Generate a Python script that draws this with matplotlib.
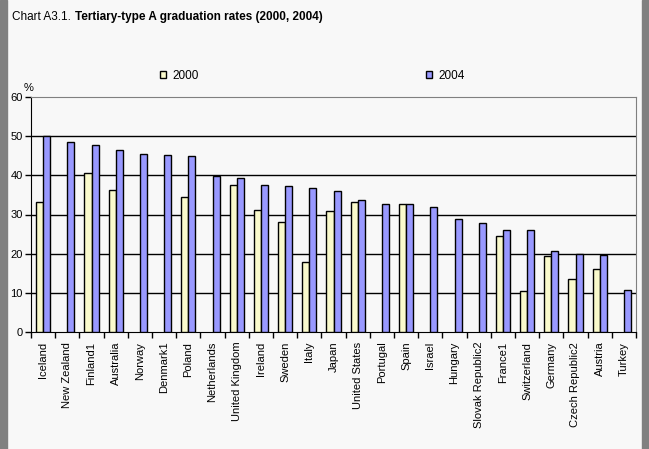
import numpy as np
import matplotlib
matplotlib.use("Agg")
import matplotlib.pyplot as plt
from matplotlib.patches import Rectangle

plt.rcParams['font.family'] = ['Liberation Sans', 'DejaVu Sans']

countries = ["Iceland", "New Zealand", "Finland1", "Australia", "Norway", "Denmark1",
             "Poland", "Netherlands", "United Kingdom", "Ireland", "Sweden", "Italy",
             "Japan", "United States", "Portugal", "Spain", "Israel", "Hungary",
             "Slovak Republic2", "France1", "Switzerland", "Germany",
             "Czech Republic2", "Austria", "Turkey"]
nan = np.nan
rate_2000 = [33.1, nan, 40.5, 36.2, nan, nan, 34.4, nan, 37.5, 31.1, 28.0, 18.0,
             30.8, 33.1, nan, 32.6, nan, nan, nan, 24.4, 10.4, 19.3, 13.5, 16.0, nan]
rate_2004 = [50.0, 48.4, 47.7, 46.4, 45.4, 45.1, 44.9, 39.9, 39.2, 37.5, 37.2, 36.7,
             35.9, 33.6, 32.6, 32.6, 31.8, 28.8, 27.8, 26.0, 26.0, 20.6, 19.8, 19.6, 10.6]
yticks = [0, 10, 20, 30, 40, 50, 60]

bg = "#F8F8F8"
fig = plt.figure(figsize=(6.49, 4.49), dpi=100, facecolor=bg)
# grey frame bands at the sides
fig.patches.append(Rectangle((0, 0), 7 / 649, 1, transform=fig.transFigure,
                             color="#808080", zorder=0))
fig.patches.append(Rectangle((642 / 649, 0), 7 / 649, 1, transform=fig.transFigure,
                             color="#808080", zorder=0))

ax = fig.add_axes([31 / 649, 1 - 332 / 449, 605 / 649, 235 / 449])
ax.set_facecolor(bg)

x = np.arange(len(countries))
w = 0.29
b1 = ax.bar(x + 0.5 - w, rate_2000, width=w, align="edge", color="#FAFACC",
            edgecolor="black", linewidth=1, zorder=3, label="2000")
b2 = ax.bar(x + 0.5, rate_2004, width=w, align="edge", color="#9999FF",
            edgecolor="black", linewidth=1, zorder=3, label="2004")

ax.set_xlim(0, len(countries))
ax.set_ylim(0, 60)
ax.set_yticks(yticks)
ax.set_yticklabels([str(t) for t in yticks], fontsize=8)
for t in yticks[1:-1]:
    ax.axhline(t, color="black", linewidth=1, zorder=1)

ax.set_xticks(np.arange(len(countries) + 1))
ax.set_xticklabels([])
ax.set_xticks(x + 0.5, minor=True)
ax.set_xticklabels(countries, minor=True, rotation=90, fontsize=8)
ax.tick_params(axis="x", which="major", direction="out", length=4, width=1)
ax.tick_params(axis="x", which="minor", length=0, pad=7)
ax.tick_params(axis="y", direction="out", length=4, width=1, pad=2)

ax.spines["left"].set_color("black")
ax.spines["bottom"].set_color("black")
ax.spines["top"].set_color("#808080")
ax.spines["right"].set_color("#808080")

ax.text(-0.3, 60.9, "%", fontsize=8, ha="left", va="bottom")

fig.text(12 / 649, 1 - 17 / 449, "Chart A3.1.", fontsize=8.5, va="center", ha="left")
fig.text(75 / 649, 1 - 17 / 449, "Tertiary-type A graduation rates (2000, 2004)",
         fontsize=8.5, fontweight="bold", va="center", ha="left")

leg_kw = dict(loc="center left", frameon=False, fontsize=8.5, handlelength=0.55,
              handleheight=0.55, handletextpad=0.5, borderpad=0, borderaxespad=0)
fig.legend(handles=[b1], labels=["2000"], bbox_to_anchor=(160 / 649, 1 - 76 / 449), **leg_kw)
fig.legend(handles=[b2], labels=["2004"], bbox_to_anchor=(426 / 649, 1 - 76 / 449), **leg_kw)

fig.savefig("out.png", dpi=100, facecolor=bg)
